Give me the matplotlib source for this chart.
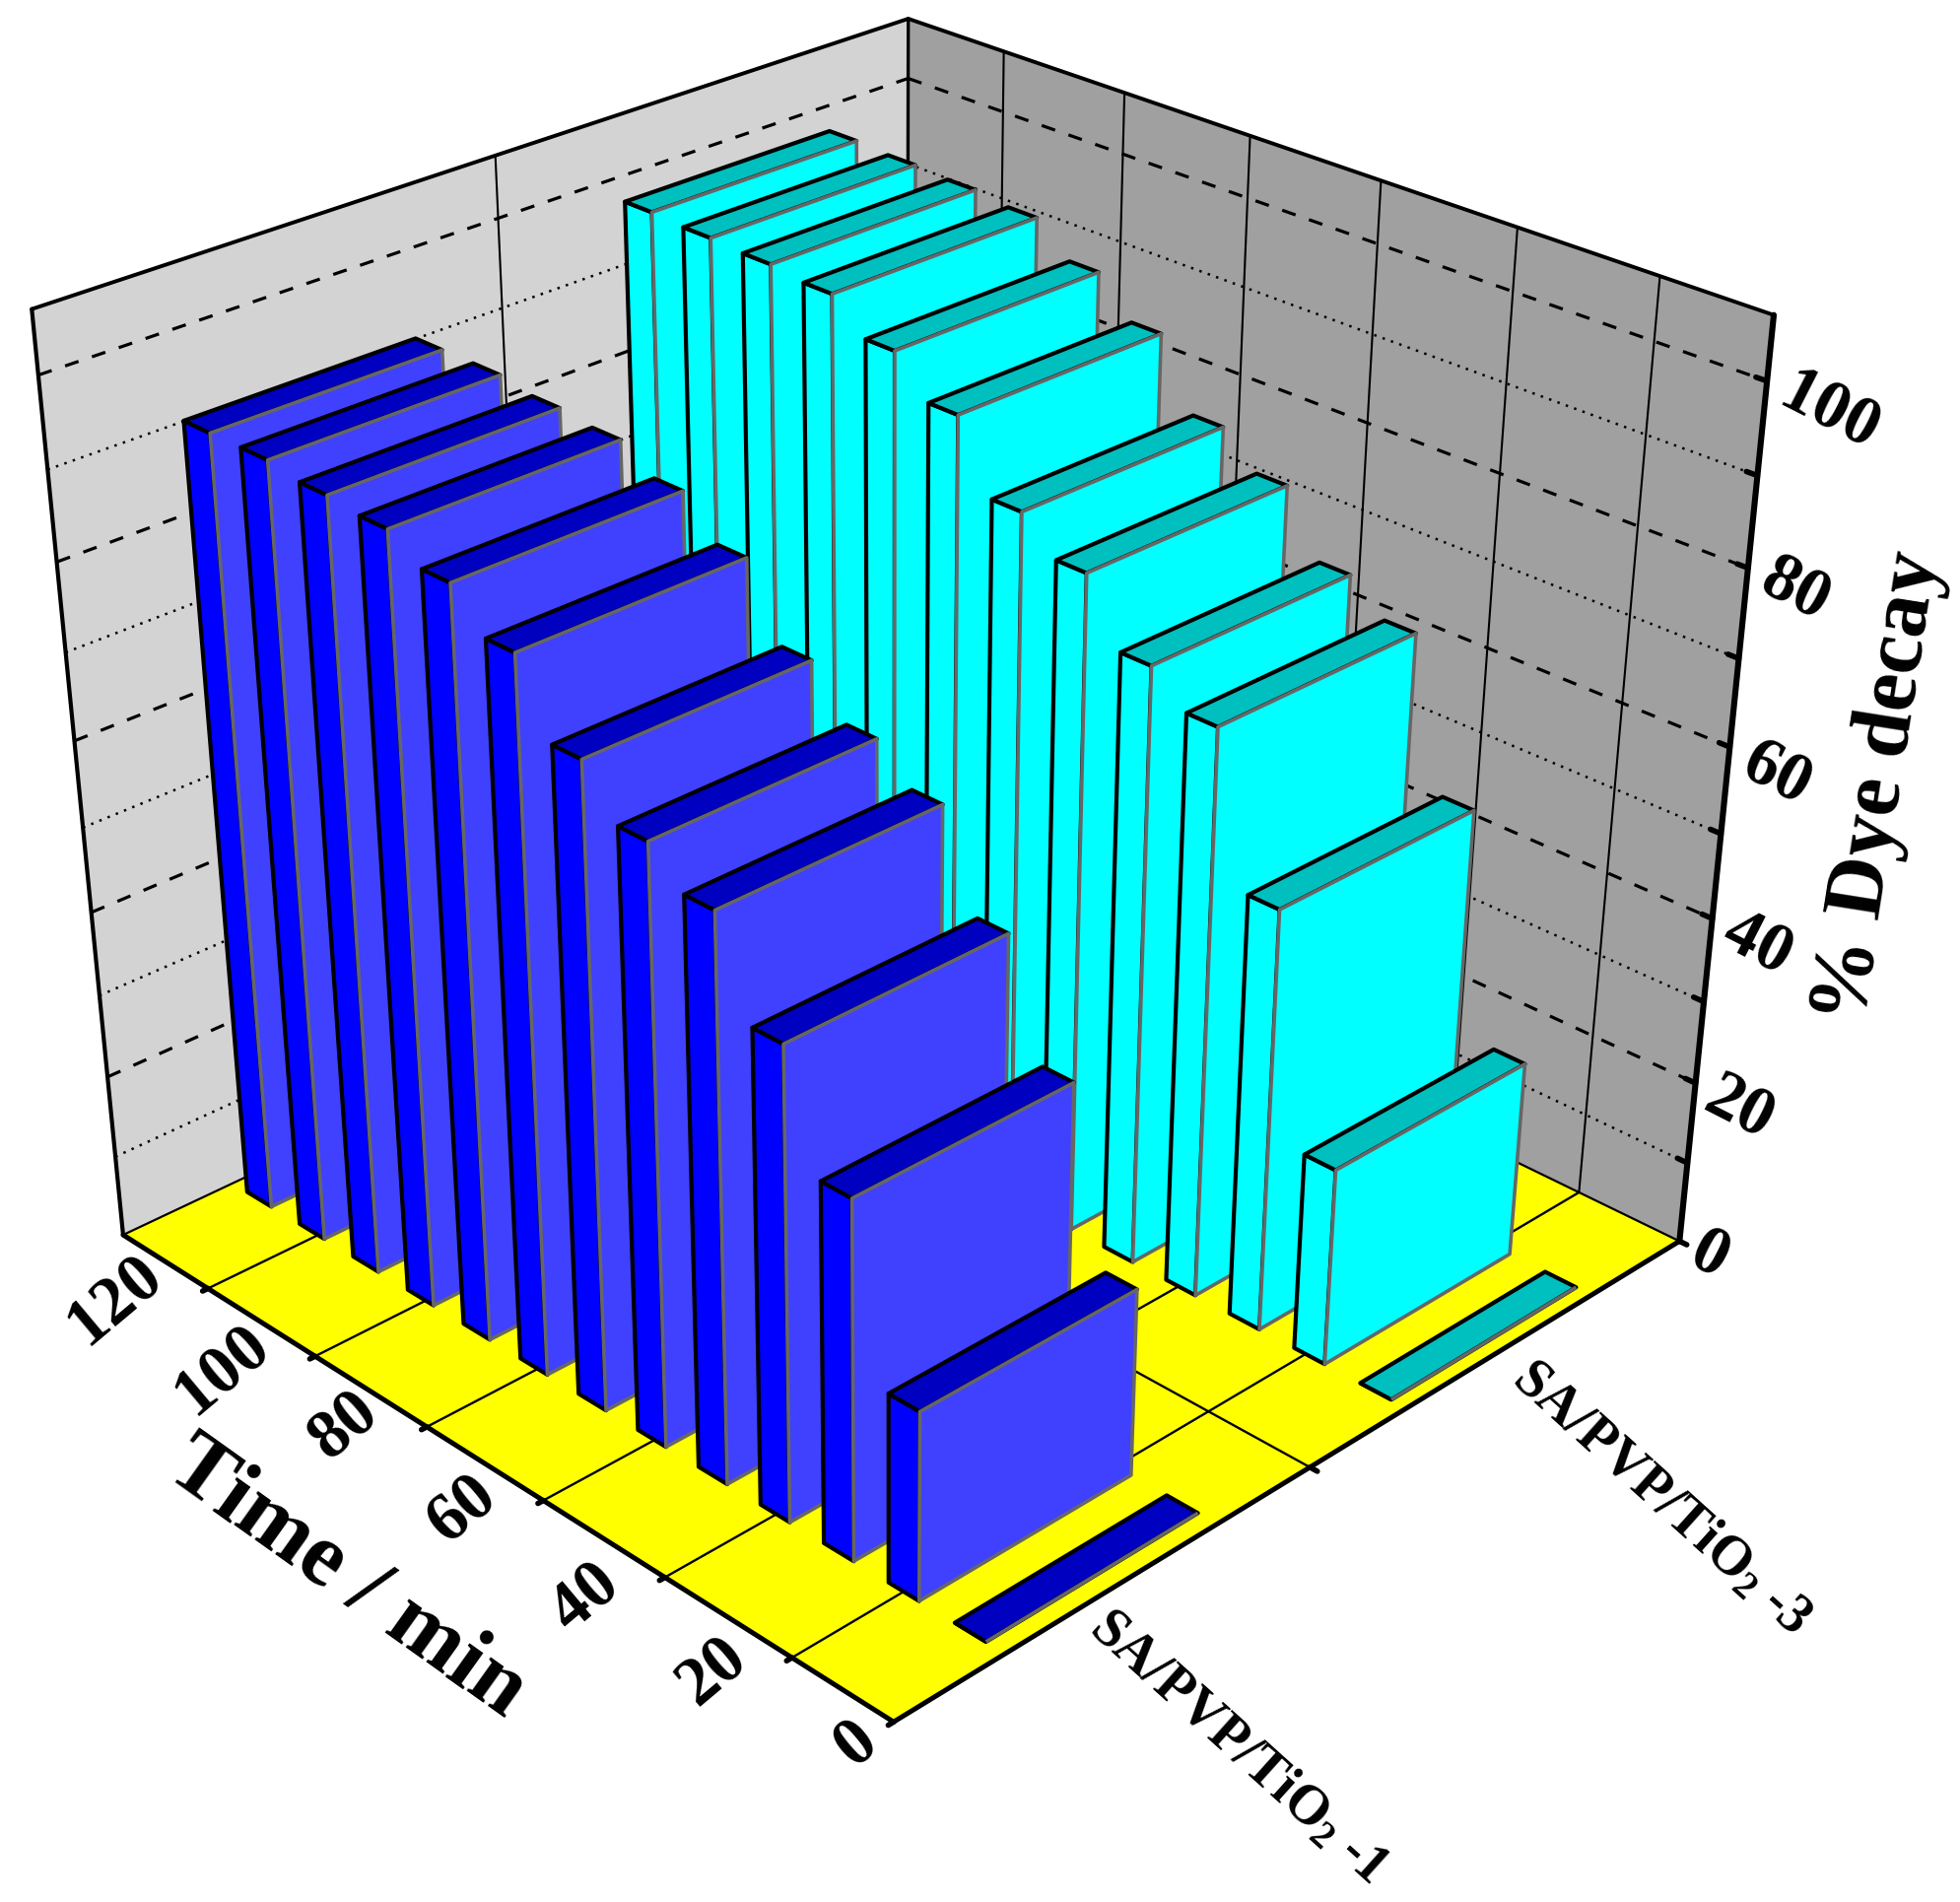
import numpy as np
import matplotlib
matplotlib.use('Agg')
import matplotlib.pyplot as plt
from mpl_toolkits.mplot3d.art3d import Poly3DCollection

plt.rcParams['font.family'] = ['Liberation Serif', 'DejaVu Serif']
plt.rcParams['font.weight'] = 'bold'
plt.rcParams['mathtext.fontset'] = 'custom'
plt.rcParams['mathtext.rm'] = 'Liberation Serif:bold'
plt.rcParams['mathtext.bf'] = 'Liberation Serif:bold'
plt.rcParams['mathtext.default'] = 'bf'

# data
times = [0, 10, 20, 30, 40, 50, 60, 70, 80, 90, 100, 110, 120]
decay_1 = [0, 22.5, 42.4, 55.4, 66.1, 69.9, 75.2, 83.2, 87.4, 90.0, 90.6, 91.4, 91.4]
decay_3 = [0, 23.9, 50.6, 67.7, 71.2, 78.3, 82.0, 89.7, 93.9, 97.4, 98.0, 98.3, 98.6]
time_ticks = [20, 40, 60, 80, 100, 120]
z_major = [20, 40, 60, 80, 100]
z_minor = [10, 30, 50, 70, 90]

W, H = 1990, 1931
xmin, xmax = 0.5, 2.52
tmin, tmax = 4.62, 136.41
zmax = 106.86
bar_w = 0.51
bar_d = 4.7
bar_step = 1.012
k = W / 1568

# camera: projective map solved from where the box lands in the picture (pixels)
cam_box = [(0, 0, 0), (0, 1, 0), (1, 0, 0), (0, 1, 1), (1, 1, 1), (1, 0, 1)]
cam_px = [(907, 1748), (125, 1254), (1704, 1261), (32, 315), (922, 20), (1800, 321)]
cam_w = [5.0] * 6
for t, a, b in [(20, 632, 1330), (40, 535, 1267), (60, 434, 1200), (80, 343, 1140), (100, 250, 1082), (120, 163, 1028)]:
    cam_box.append((0, (t - tmin) / (tmax - tmin), 0)); cam_px.append((a * k, b * k)); cam_w.append(1.0)
for z, a, b in [(100, 1413, 301), (80, 1397, 449), (60, 1382, 591)]:
    cam_box.append((1, 0, z / zmax)); cam_px.append((a * k, b * k)); cam_w.append(1.0)
cam_box.append((0.4915, 0, 0)); cam_px.append((1050 * k, 1175 * k)); cam_w.append(1.0)

rows = []
for (X, Y, Z), (u, v), wt in zip(cam_box, cam_px, cam_w):
    u, v = u / 1000, v / 1000
    rows.append(wt * np.array([X, Y, Z, 1, 0, 0, 0, 0, -u * X, -u * Y, -u * Z, -u]))
    rows.append(wt * np.array([0, 0, 0, 0, X, Y, Z, 1, -v * X, -v * Y, -v * Z, -v]))
P_cam = np.linalg.svd(np.array(rows))[2][-1].reshape(3, 4)

fig = plt.figure(figsize=(W / 100, H / 100), dpi=100)
ax = fig.add_axes([0, 0, H / W, 1], projection='3d', computed_zorder=False)
ax.set_xlim(xmin, xmax)
ax.set_ylim(tmin, tmax)
ax.set_zlim(0, zmax)
ax.set_axis_off()
ax.set_proj_type('ortho')  # stops Line3D clipping on depth, the map below does the perspective

ul, ur = ax.viewLim.intervalx
vl, vr = ax.viewLim.intervaly
a_u = (ur - ul) / H * 1000
a_v = (vr - vl) / H * 1000
row_u = a_u * P_cam[0] + ul * P_cam[2]
row_v = -a_v * P_cam[1] + (vr) * P_cam[2]
row_w = P_cam[2]
row_z = np.linalg.svd(np.array([row_u, row_v, row_w]))[2][-1]
to_box = np.array([[1 / (xmax - xmin), 0, 0, -xmin / (xmax - xmin)],
                   [0, 1 / (tmax - tmin), 0, -tmin / (tmax - tmin)],
                   [0, 0, 1 / zmax, 0],
                   [0, 0, 0, 1]])
M_cam = np.array([row_u, row_v, row_z, row_w]) @ to_box
ax.get_proj = lambda: M_cam


def poly(verts, fc, ec='none', lw=0, zorder=1):
    col = Poly3DCollection([verts], facecolors=fc, edgecolors=ec, linewidths=lw, zorder=zorder)
    ax.add_collection3d(col)


def line(p0, p1, zorder=2, **kw):
    ax.plot([p0[0], p1[0]], [p0[1], p1[1]], [p0[2], p1[2]], color='k', zorder=zorder,
            solid_capstyle='round', **kw)


# walls and floor
poly([(xmin, tmin, 0), (xmax, tmin, 0), (xmax, tmax, 0), (xmin, tmax, 0)], '#FFFF00')
poly([(xmin, tmax, 0), (xmax, tmax, 0), (xmax, tmax, zmax), (xmin, tmax, zmax)], '#D3D3D3')
poly([(xmax, tmin, 0), (xmax, tmax, 0), (xmax, tmax, zmax), (xmax, tmin, zmax)], '#A0A0A0')

# grid
for z in z_major:
    line((xmin, tmax, z), (xmax, tmax, z), lw=2.3, linestyle=(0, (4.5, 4.5)))
    line((xmax, tmax, z), (xmax, tmin, z), lw=2.3, linestyle=(0, (4.5, 4.5)))
for z in z_minor:
    line((xmin, tmax, z), (xmax, tmax, z), lw=1.8, linestyle=(0, (1, 2.6)))
    line((xmax, tmax, z), (xmax, tmin, z), lw=1.8, linestyle=(0, (1, 2.6)))
for t in time_ticks:
    line((xmin, t, 0), (xmax, t, 0), lw=1.7)
    line((xmax, t, 0), (xmax, t, zmax), lw=1.5)
line((1.5, tmin, 0), (1.5, tmax, 0), lw=1.7)
line((1.5, tmax, 0), (1.5, tmax, zmax), lw=1.5)

# box edges
line((xmax, tmax, 0), (xmax, tmax, zmax), lw=2.4)
line((xmin, tmin, 0), (xmin, tmax, 0), lw=3.6)
line((xmin, tmin, 0), (xmax, tmin, 0), lw=3.6)
line((xmax, tmin, 0), (xmax, tmin, zmax), lw=4.4)
line((xmin, tmax, 0), (xmin, tmax, zmax), lw=3.0)
line((xmin, tmax, zmax), (xmax, tmax, zmax), lw=2.8)
line((xmax, tmax, zmax), (xmax, tmin, zmax), lw=2.8)
line((xmin, tmax, 0), (xmax, tmax, 0), lw=1.6)
line((xmax, tmax, 0), (xmax, tmin, 0), lw=1.6)

# ticks
for t in time_ticks:
    line((xmin - 0.012, t, 0), (xmin, t, 0), lw=4.0)
line((xmin - 0.012, tmin, 0), (xmin, tmin, 0), lw=4.0)
line((1.5, tmin - 1.1, 0), (1.5, tmin, 0), lw=4.0)
line((xmax, tmin - 1.1, 0), (xmax, tmin, 0), lw=4.0)
for z in z_major + z_minor:
    line((xmax, tmin + 1.5, z), (xmax, tmin, z), lw=4.0)

# bars, painted from the back to the front
zo = 10
series = [(2.01, decay_3, 7.05, '#00FFFF', '#00FFFF', '#00BFBF'), (1.01, decay_1, 7.6, '#4040FF', '#0000FF', '#0000C0')]
for center, values, shift, c_big, c_side, c_top in series:
    x0, x1 = center - bar_w / 2, center + bar_w / 2
    for t, v in sorted(zip(times, values), reverse=True):
        y0, y1 = t * bar_step + shift, t * bar_step + shift + bar_d
        poly([(x0, y0, 0), (x0, y1, 0), (x0, y1, v), (x0, y0, v)], c_side, 'k', 3.0, zo)
        poly([(x0, y0, v), (x1, y0, v), (x1, y1, v), (x0, y1, v)], c_top, 'k', 3.0, zo + 1)
        poly([(x0, y0, 0), (x1, y0, 0), (x1, y0, v), (x0, y0, v)], c_big, '#666666', 2.6, zo + 2)
        zo += 3


# text, placed in picture pixels of the reference
def label(px, py, s, rot, size):
    fig.text(px / W, 1 - py / H, s, rotation=rot, fontsize=size, ha='center', va='center',
             rotation_mode='anchor', fontweight='bold')


time_labels = ['0', '20', '40', '60', '80', '100', '120']
time_pos = [(685, 1395), (570, 1337), (468, 1278), (370, 1207), (276, 1140), (178, 1096), (92, 1040)]
for s, (a, b) in zip(time_labels, time_pos):
    label(a * k, b * k, s, 40, 50)
z_labels = ['0', '20', '40', '60', '80', '100']
z_pos = [(1366, 1005), (1390, 887), (1405, 756), (1420, 620), (1435, 473), (1462, 330)]
for s, (a, b) in zip(z_labels, z_pos):
    label(a * k, b * k, s, -27, 50)
label(277 * k, 1262 * k, 'Time / min', -35.5, 66)
label(1503 * k, 630 * k, '% Dye decay', 81, 62)
label(990 * k, 1397 * k, 'SA/PVP/TiO$_2$ -1', -42, 40)
label(1328 * k, 1198 * k, 'SA/PVP/TiO$_2$ -3', -42, 40)

fig.savefig('out.png', dpi=100)
